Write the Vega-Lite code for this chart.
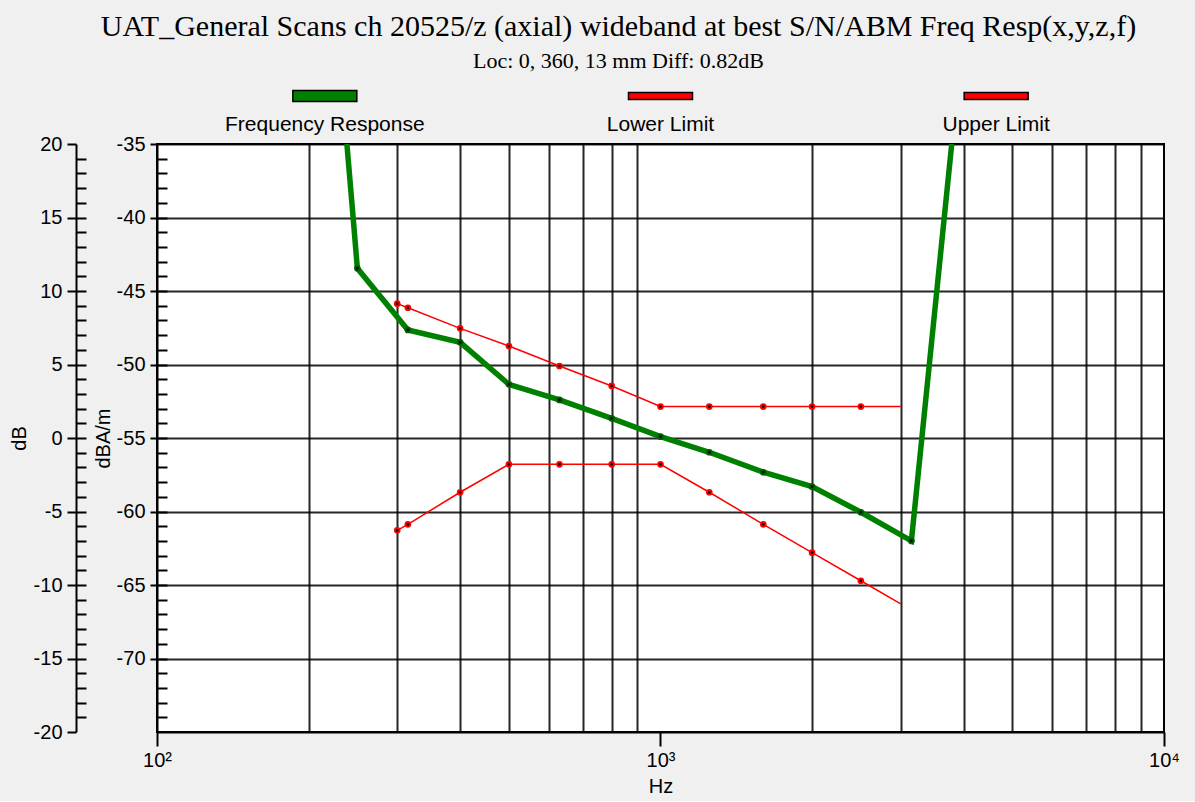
{
  "$schema": "https://vega.github.io/schema/vega-lite/v6.json",
  "background": "#f0f0f0",
  "autosize": {"type": "pad"},
  "padding": {"left": 8, "top": 12, "right": 16, "bottom": 4},
  "title": {
    "text": "UAT_General Scans ch 20525/z (axial) wideband at best S/N/ABM Freq Resp(x,y,z,f)",
    "subtitle": "Loc: 0, 360, 13 mm Diff: 0.82dB",
    "font": "Liberation Serif", "fontSize": 30, "fontWeight": "normal", "color": "#000000",
    "subtitleFont": "Liberation Serif", "subtitleFontSize": 22, "subtitleColor": "#000000", "subtitlePadding": 9,
    "anchor": "middle", "frame": "group", "offset": 15, "dx": -42
  },
  "config": {
    "view": {"stroke": null},
    "axis": {
      "labelFont": "Liberation Sans", "titleFont": "Liberation Sans",
      "labelFontSize": 20, "titleFontSize": 20, "titleFontWeight": "normal",
      "labelColor": "#000000", "titleColor": "#000000",
      "domainColor": "#000000", "tickColor": "#000000", "gridColor": "#000000",
      "domainWidth": 2, "tickWidth": 2, "gridWidth": 2, "gridOpacity": 0.85
    }
  },
  "datasets": {
    "main": [
      {"s": "Frequency Response", "f": 238.3, "v": -35, "m": 0},
      {"s": "Frequency Response", "f": 245.2, "v": -40, "m": 0},
      {"s": "Frequency Response", "f": 250, "v": -43.46, "m": 1},
      {"s": "Frequency Response", "f": 315, "v": -47.65, "m": 1},
      {"s": "Frequency Response", "f": 400, "v": -48.49, "m": 1},
      {"s": "Frequency Response", "f": 500, "v": -51.35, "m": 1},
      {"s": "Frequency Response", "f": 630, "v": -52.41, "m": 1},
      {"s": "Frequency Response", "f": 800, "v": -53.66, "m": 1},
      {"s": "Frequency Response", "f": 1000, "v": -54.91, "m": 1},
      {"s": "Frequency Response", "f": 1250, "v": -55.97, "m": 1},
      {"s": "Frequency Response", "f": 1600, "v": -57.33, "m": 1},
      {"s": "Frequency Response", "f": 2000, "v": -58.31, "m": 1},
      {"s": "Frequency Response", "f": 2500, "v": -60.05, "m": 1},
      {"s": "Frequency Response", "f": 3150, "v": -62.0, "m": 1},
      {"s": "Frequency Response", "f": 3788, "v": -35, "m": 0},
      {"s": "Lower Limit", "f": 300, "v": -61.28, "m": 1},
      {"s": "Lower Limit", "f": 315, "v": -60.87, "m": 1},
      {"s": "Lower Limit", "f": 400, "v": -58.69, "m": 1},
      {"s": "Lower Limit", "f": 500, "v": -56.79, "m": 1},
      {"s": "Lower Limit", "f": 630, "v": -56.79, "m": 1},
      {"s": "Lower Limit", "f": 800, "v": -56.79, "m": 1},
      {"s": "Lower Limit", "f": 1000, "v": -56.79, "m": 1},
      {"s": "Lower Limit", "f": 1250, "v": -58.69, "m": 1},
      {"s": "Lower Limit", "f": 1600, "v": -60.87, "m": 1},
      {"s": "Lower Limit", "f": 2000, "v": -62.8, "m": 1},
      {"s": "Lower Limit", "f": 2500, "v": -64.71, "m": 1},
      {"s": "Lower Limit", "f": 3000, "v": -66.29, "m": 0},
      {"s": "Upper Limit", "f": 300, "v": -45.86, "m": 1},
      {"s": "Upper Limit", "f": 315, "v": -46.14, "m": 1},
      {"s": "Upper Limit", "f": 400, "v": -47.54, "m": 1},
      {"s": "Upper Limit", "f": 500, "v": -48.74, "m": 1},
      {"s": "Upper Limit", "f": 630, "v": -50.1, "m": 1},
      {"s": "Upper Limit", "f": 800, "v": -51.46, "m": 1},
      {"s": "Upper Limit", "f": 1000, "v": -52.86, "m": 1},
      {"s": "Upper Limit", "f": 1250, "v": -52.86, "m": 1},
      {"s": "Upper Limit", "f": 1600, "v": -52.86, "m": 1},
      {"s": "Upper Limit", "f": 2000, "v": -52.86, "m": 1},
      {"s": "Upper Limit", "f": 2500, "v": -52.86, "m": 1},
      {"s": "Upper Limit", "f": 3000, "v": -52.86, "m": 0}
    ],
    "legend": [
      {"s": "Frequency Response"},
      {"s": "Lower Limit"},
      {"s": "Upper Limit"}
    ]
  },
  "bounds": "flush",
  "spacing": 19,
  "vconcat": [
    {
      "width": 1007,
      "height": 29,
      "view": {"stroke": null},
      "data": {"name": "legend"},
      "encoding": {
        "x": {"field": "s", "type": "nominal", "scale": {"type": "point", "padding": 0.5, "domain": ["Frequency Response", "Lower Limit", "Upper Limit"]}, "axis": null}
      },
      "layer": [
        {
          "mark": {"type": "point", "filled": true, "size": 4096, "stroke": "#000000", "strokeWidth": 1.5, "opacity": 1},
          "encoding": {
            "y": {"datum": 1, "type": "quantitative", "scale": {"domain": [0, 1]}, "axis": null},
            "fill": {"field": "s", "type": "nominal", "scale": {"domain": ["Frequency Response", "Lower Limit", "Upper Limit"], "range": ["#008000", "#ff0000", "#ff0000"]}, "legend": null},
            "shape": {"field": "s", "type": "nominal", "scale": {"domain": ["Frequency Response", "Lower Limit", "Upper Limit"], "range": ["M-1,-0.172H1V0.172H-1Z", "M-1,-0.11H1V0.11H-1Z", "M-1,-0.11H1V0.11H-1Z"]}, "legend": null}
          }
        },
        {
          "mark": {"type": "text", "font": "Liberation Sans", "fontSize": 21, "baseline": "middle", "color": "#000000"},
          "encoding": {
            "y": {"datum": 0, "type": "quantitative", "scale": {"domain": [0, 1]}, "axis": null},
            "text": {"field": "s", "type": "nominal"}
          }
        }
      ]
    },
    {
      "width": 1007,
      "height": 588,
      "view": {"fill": "#ffffff", "stroke": "#000000", "strokeWidth": 2},
      "data": {"name": "main"},
      "resolve": {"scale": {"y": "independent"}, "axis": {"x": "independent"}},
      "layer": [
        {
          "mark": {"type": "point", "opacity": 0},
          "encoding": {
            "x": {"datum": 1000, "type": "quantitative", "scale": {"type": "log", "domain": [100, 10000]},
              "axis": {"orient": "bottom", "values": [200, 300, 400, 500, 600, 700, 800, 900, 2000, 3000, 4000, 5000, 6000, 7000, 8000, 9000], "grid": true, "ticks": false, "labels": false, "domain": false, "title": null}}
          }
        },
        {
          "mark": {"type": "point", "opacity": 0},
          "encoding": {
            "y": {"datum": -50, "type": "quantitative", "scale": {"domain": [-75, -35], "nice": false, "zero": false},
              "axis": {"orient": "left", "values": [-36, -37, -38, -39, -40, -41, -42, -43, -44, -45, -46, -47, -48, -49, -50, -51, -52, -53, -54, -55, -56, -57, -58, -59, -60, -61, -62, -63, -64, -65, -66, -67, -68, -69, -70, -71, -72, -73, -74], "tickSize": -10, "labels": false, "domain": false, "grid": false, "title": null}}
          }
        },
        {
          "mark": {"type": "point", "opacity": 0},
          "encoding": {
            "y": {"datum": 0, "type": "quantitative", "scale": {"domain": [-20, 20], "nice": false, "zero": false},
              "axis": {"orient": "left", "offset": 81, "values": [20, 15, 10, 5, 0, -5, -10, -15, -20], "labelExpr": "toString(datum.value)", "tickSize": 9, "labelPadding": 5, "grid": false, "title": "dB", "titlePadding": 4}}
          }
        },
        {
          "mark": {"type": "point", "opacity": 0},
          "encoding": {
            "y": {"datum": 0, "type": "quantitative", "scale": {"domain": [-20, 20], "nice": false, "zero": false},
              "axis": {"orient": "left", "offset": 81, "values": [19, 18, 17, 16, 15, 14, 13, 12, 11, 10, 9, 8, 7, 6, 5, 4, 3, 2, 1, 0, -1, -2, -3, -4, -5, -6, -7, -8, -9, -10, -11, -12, -13, -14, -15, -16, -17, -18, -19], "tickSize": -10, "labels": false, "domain": false, "grid": false, "title": null}}
          }
        },
        {
          "transform": [{"filter": "datum.s != 'Frequency Response'"}],
          "mark": {"type": "line", "color": "#ff0000", "strokeWidth": 1.5, "clip": true},
          "encoding": {
            "x": {"field": "f", "type": "quantitative", "scale": {"type": "log", "domain": [100, 10000]}, "axis": null},
            "y": {"field": "v", "type": "quantitative", "scale": {"domain": [-75, -35], "nice": false, "zero": false}, "axis": null},
            "detail": {"field": "s", "type": "nominal"}
          }
        },
        {
          "transform": [{"filter": "datum.s == 'Frequency Response'"}],
          "mark": {"type": "line", "color": "#008000", "strokeWidth": 5.5, "clip": true},
          "encoding": {
            "x": {"field": "f", "type": "quantitative", "scale": {"type": "log", "domain": [100, 10000]},
              "axis": {"orient": "bottom", "values": [100, 1000, 10000], "labelExpr": "datum.value == 100 ? '10²' : datum.value == 1000 ? '10³' : '10⁴'", "labelFlush": false, "tickSize": 14, "labelPadding": 4, "grid": false, "title": "Hz", "titlePadding": 6}},
            "y": {"field": "v", "type": "quantitative", "scale": {"domain": [-75, -35], "nice": false, "zero": false},
              "axis": {"orient": "left", "values": [-35, -40, -45, -50, -55, -60, -65, -70], "labelExpr": "toString(datum.value)", "tickSize": 7, "labelPadding": 5, "grid": true, "title": "dBA/m", "titlePadding": 3}}
          }
        },
        {
          "transform": [{"filter": "datum.m == 1"}],
          "mark": {"type": "point", "filled": true, "fill": "#000000", "size": 22, "strokeWidth": 2, "opacity": 1},
          "encoding": {
            "x": {"field": "f", "type": "quantitative", "scale": {"type": "log", "domain": [100, 10000]}, "axis": null},
            "y": {"field": "v", "type": "quantitative", "scale": {"domain": [-75, -35], "nice": false, "zero": false}, "axis": null},
            "stroke": {"field": "s", "type": "nominal", "scale": {"domain": ["Frequency Response", "Lower Limit", "Upper Limit"], "range": ["#006000", "#ff0000", "#ff0000"]}, "legend": null}
          }
        }
      ]
    }
  ]
}
